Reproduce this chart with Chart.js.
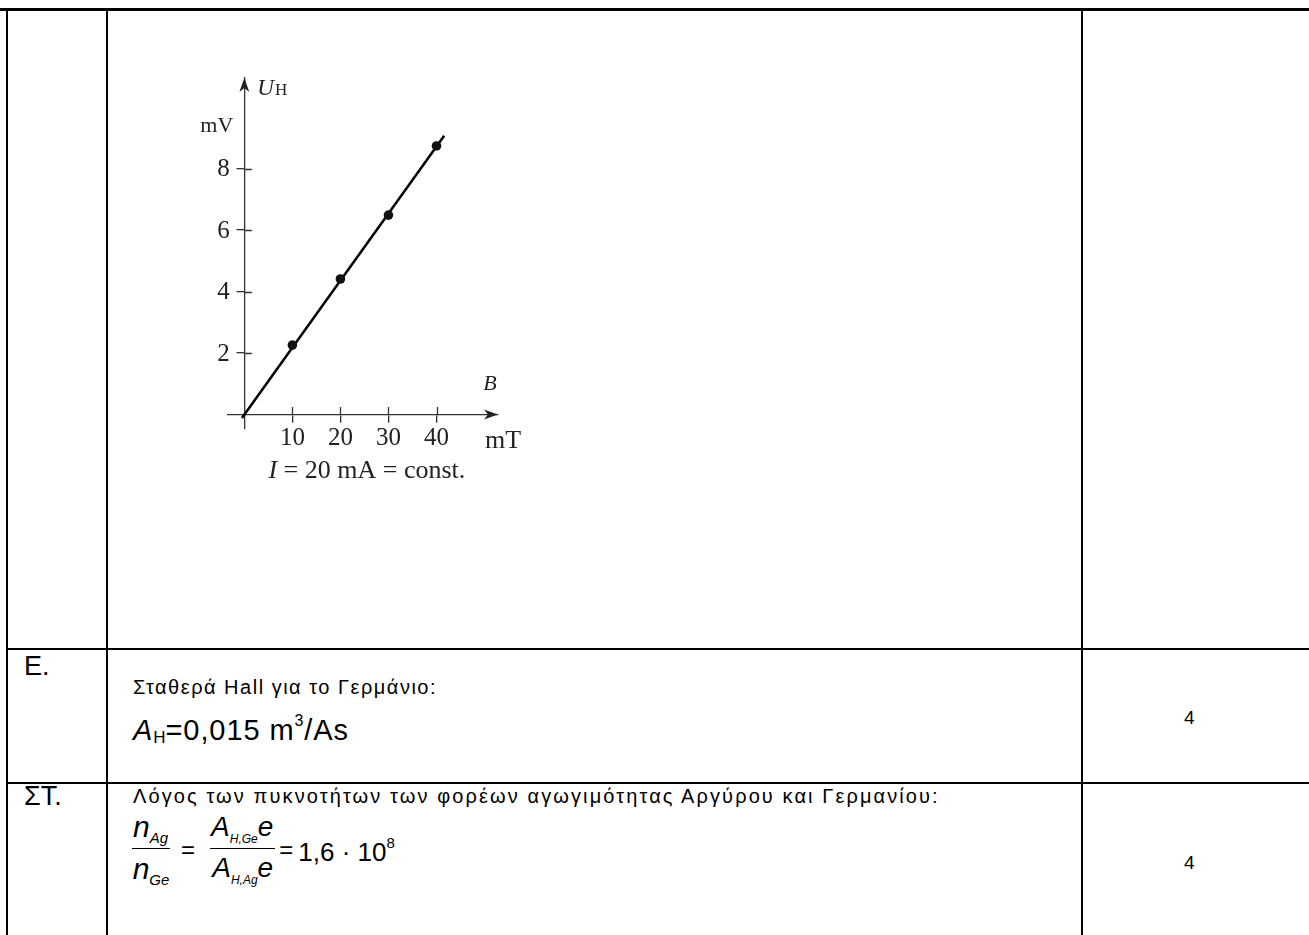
<!DOCTYPE html>
<html lang="el">
<head>
<meta charset="UTF-8">
<title>Φαινόμενο Hall</title>
<script src="https://cdn.jsdelivr.net/npm/chart.js@4.4.0/dist/chart.umd.min.js"></script>
<style>
  html, body { margin: 0; padding: 0; background: #fff; }
  body { width: 1309px; height: 935px; position: relative; overflow: hidden;
         font-family: "Liberation Sans", Arial, sans-serif; color: #000; }
  .ln { position: absolute; background: #000; z-index: 2; }
  .txt { position: absolute; z-index: 3; white-space: nowrap; line-height: 1; }
  .row-id { font-size: 27px; }
  .small { font-size: 20px; }
  .mark { font-size: 19px; }
  .big { font-size: 29px; letter-spacing: 0.9px; }
  .big sub { font-size: 17px; vertical-align: -3px; letter-spacing: 0; }
  .big sup { font-size: 16px; vertical-align: 14px; }
  #math { display: flex; align-items: center; }
  #math i { font-style: italic; }
  .fr { display: inline-flex; flex-direction: column; align-items: center; }
  .fr .num { border-bottom: 1.6px solid #000; padding: 0 2px 3px 1px; }
  .fr .den { padding-top: 5px; }
  .n { font-size: 30px; }
  .n sub { font-size: 15px; font-style: italic; vertical-align: -6px; }
  .a { font-size: 28px; }
  .a sub { font-size: 12px; font-style: italic; vertical-align: -7px; }
  .eq { font-size: 24px; }
  .val { font-size: 26px; }
  .val sup { font-size: 15px; vertical-align: 13px; }
  #chartBox { position: absolute; left: 150px; top: 50px; width: 400px; height: 450px; z-index: 3; }
</style>
</head>
<body>
  <!-- table rules -->
  <div class="ln" style="left:0; top:8px; width:1309px; height:3px;"></div>
  <div class="ln" style="left:6px; top:9px; width:2px; height:926px;"></div>
  <div class="ln" style="left:106px; top:9px; width:2px; height:926px;"></div>
  <div class="ln" style="left:1081px; top:9px; width:2px; height:926px;"></div>
  <div class="ln" style="left:6px; top:648px; width:1303px; height:2px;"></div>
  <div class="ln" style="left:6px; top:782px; width:1303px; height:2px;"></div>

  <div id="chartBox"><canvas id="hallChart" width="400" height="450"></canvas></div>

  <div class="txt row-id" style="left:24px; top:653px;">Ε.</div>
  <div class="txt small" style="left:133px; top:677px; letter-spacing:1.5px;">Σταθερά Hall για το Γερμάνιο:</div>
  <div class="txt big" style="left:133px; top:713px;"><i>A</i><sub>H</sub>=0,015 m<sup>3</sup>/As</div>
  <div class="txt mark" style="left:1184px; top:708px;">4</div>

  <div class="txt row-id" style="left:24px; top:783px;">ΣΤ.</div>
  <div class="txt small" style="left:133px; top:786px; letter-spacing:2.1px;">Λόγος των πυκνοτήτων των φορέων αγωγιμότητας Αργύρου και Γερμανίου:</div>
  <div class="txt" id="math" style="left:132px; top:812px;">
    <span class="fr n"><span class="num"><i>n</i><sub>Ag</sub></span><span class="den"><i>n</i><sub>Ge</sub></span></span>
    <span class="eq" style="margin:0 15px 0 11px;">=</span>
    <span class="fr a"><span class="num"><i>A</i><sub>H,Ge</sub><i>e</i></span><span class="den"><i>A</i><sub>H,Ag</sub><i>e</i></span></span>
    <span class="eq" style="margin:0 5px 0 4px;">=</span><span class="val">1,6 · 10<sup>8</sup></span>
  </div>
  <div class="txt mark" style="left:1184px; top:853px;">4</div>

<script>
// Hall voltage U_H against magnetic flux density B, at I = 20 mA
const xTickValues = [10, 20, 30, 40];            // B, mT
const yTickValues = [2, 4, 6, 8];                // U_H, mV
const fieldB = [10, 20, 30, 40];                 // measured B, mT
const hallVoltage = [2.26, 4.41, 6.49, 8.74];    // measured U_H, mV
const fitB = [-0.5, 41.6];                       // ends of the fitted line
const fitU = [-0.11, 9.07];

const serif = '"Liberation Serif", "Times New Roman", serif';
const axisColor = '#333';
const tickLen = 7.5;

function arrowHead(ctx, tx, ty, angle) {
    ctx.save();
    ctx.translate(tx, ty);
    ctx.rotate(angle);
    ctx.beginPath();
    ctx.moveTo(0, 0);
    ctx.lineTo(-14, -5);
    ctx.lineTo(-10, 0);
    ctx.lineTo(-14, 5);
    ctx.closePath();
    ctx.fill();
    ctx.restore();
}

const axisDecor = {
    id: 'axisDecor',
    afterDraw(chart) {
        const { ctx, chartArea, scales: { x, y } } = chart;
        const x0 = x.getPixelForValue(0);
        const y0 = y.getPixelForValue(0);
        ctx.save();
        ctx.strokeStyle = axisColor;
        ctx.fillStyle = '#222';
        ctx.lineWidth = 1.3;

        // tick marks cross the axis: add the inner half
        ctx.beginPath();
        x.ticks.forEach(t => {
            const px = Math.round(x.getPixelForValue(t.value)) + 0.5;
            ctx.moveTo(px, y0);
            ctx.lineTo(px, y0 - tickLen);
        });
        y.ticks.forEach(t => {
            const py = Math.round(y.getPixelForValue(t.value)) + 0.5;
            ctx.moveTo(x0, py);
            ctx.lineTo(x0 + tickLen, py);
        });
        ctx.stroke();

        // y labels sit left of the tick marks
        ctx.font = '25px ' + serif;
        ctx.textAlign = 'right';
        ctx.textBaseline = 'middle';
        y.ticks.forEach(t => {
            ctx.fillText(String(t.value), x0 - tickLen - 7, y.getPixelForValue(t.value) + 1);
        });

        arrowHead(ctx, chartArea.right, y0, 0);
        arrowHead(ctx, x0, chartArea.top, -Math.PI / 2);

        // axis names and units
        ctx.textBaseline = 'alphabetic';
        ctx.textAlign = 'left';
        ctx.font = 'italic 23px ' + serif;
        ctx.fillText('U', x0 + 13, chartArea.top + 17);
        const uw = ctx.measureText('U').width;
        ctx.font = '17px ' + serif;
        ctx.fillText('H', x0 + 14 + uw, chartArea.top + 17);

        ctx.font = '22px ' + serif;
        ctx.textAlign = 'right';
        ctx.fillText('mV', x0 - 11, y.getPixelForValue(9.2));

        ctx.textAlign = 'center';
        ctx.font = 'italic 22px ' + serif;
        ctx.fillText('B', chartArea.right - 8, y0 - 25);
        ctx.font = '26px ' + serif;
        ctx.fillText('mT', chartArea.right + 5, y0 + 33);

        // operating condition under the axis
        const cx = x.getPixelForValue(25.5);
        ctx.font = 'italic 26px ' + serif;
        const iw = ctx.measureText('I').width;
        ctx.font = '26px ' + serif;
        const rest = ' = 20 mA = const.';
        const rw = ctx.measureText(rest).width;
        const startX = cx - (iw + rw) / 2;
        ctx.textAlign = 'left';
        ctx.font = 'italic 26px ' + serif;
        ctx.fillText('I', startX, y0 + 63);
        ctx.font = '26px ' + serif;
        ctx.fillText(rest, startX + iw, y0 + 63);
        ctx.restore();
    }
};

const ctx = document.getElementById('hallChart').getContext('2d');
new Chart(ctx, {
    type: 'scatter',
    data: {
        datasets: [{
            label: 'fit',
            data: fitB.map((b, i) => ({ x: b, y: fitU[i] })),
            showLine: true,
            borderColor: '#000',
            borderWidth: 2.5,
            pointRadius: 0,
            order: 2
        }, {
            label: 'U_H',
            data: fieldB.map((b, i) => ({ x: b, y: hallVoltage[i] })),
            pointRadius: 4.8,
            pointBackgroundColor: '#111',
            pointBorderWidth: 0,
            order: 1
        }]
    },
    options: {
        responsive: false,
        animation: false,
        devicePixelRatio: 1,
        layout: { padding: { left: 78, right: 52, top: 28, bottom: 71 } },
        plugins: { legend: { display: false }, tooltip: { enabled: false } },
        scales: {
            x: {
                type: 'linear',
                min: -3.4,
                max: 52.8,
                position: { y: 0 },
                afterFit: s => { s.height = 0; },
                afterBuildTicks: s => { s.ticks = xTickValues.map(v => ({ value: v })); },
                grid: { display: true, drawOnChartArea: false, drawTicks: true, tickLength: tickLen, color: axisColor, lineWidth: 1.3 },
                border: { display: true, color: axisColor, width: 1.3 },
                ticks: { font: { family: serif, size: 25 }, color: '#222', padding: 1, maxRotation: 0, autoSkip: false }
            },
            y: {
                type: 'linear',
                min: -0.47,
                max: 10.95,
                position: { x: 0 },
                afterFit: s => { s.width = 0; },
                afterBuildTicks: s => { s.ticks = yTickValues.map(v => ({ value: v })); },
                grid: { display: true, drawOnChartArea: false, drawTicks: true, tickLength: tickLen, color: axisColor, lineWidth: 1.3 },
                border: { display: true, color: axisColor, width: 1.3 },
                ticks: { display: false }
            }
        }
    },
    plugins: [axisDecor]
});
</script>
</body>
</html>
